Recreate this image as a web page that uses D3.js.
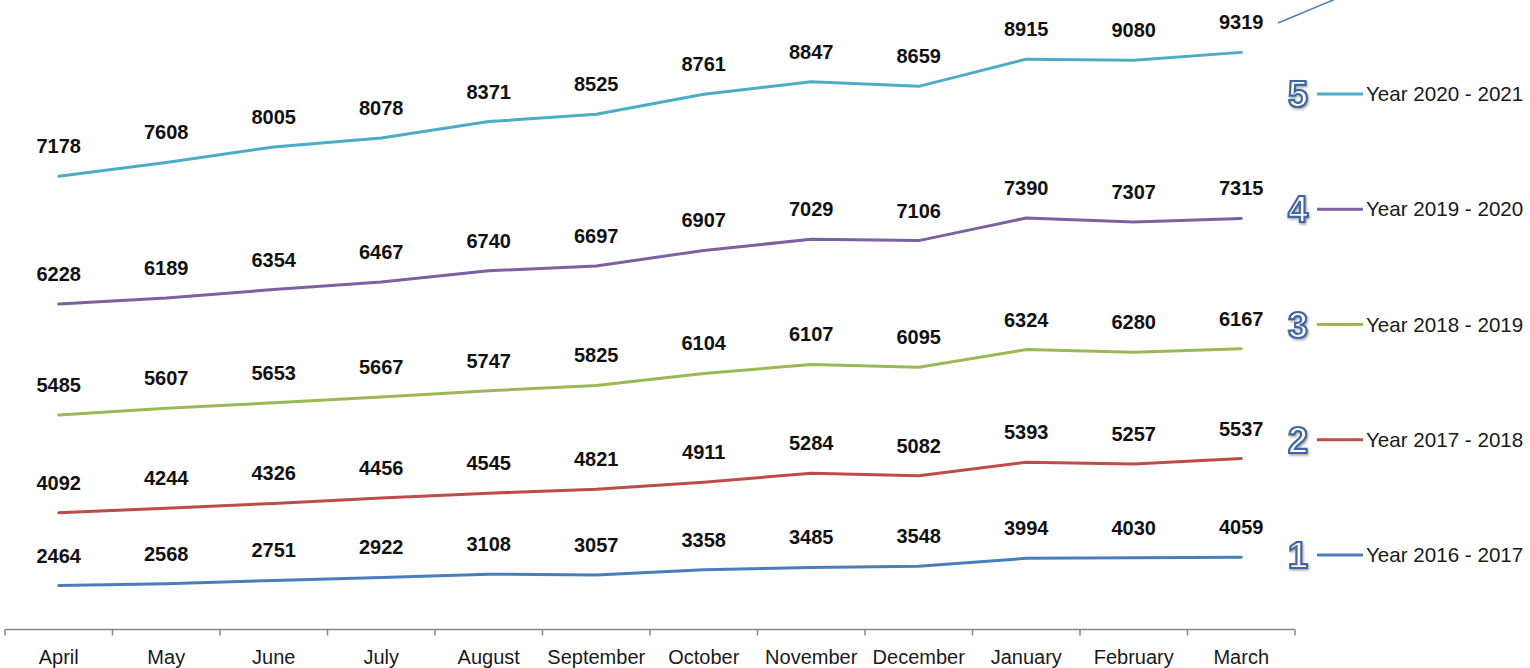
<!DOCTYPE html>
<html>
<head>
<meta charset="utf-8">
<script src="https://cdn.jsdelivr.net/npm/d3@7/dist/d3.min.js"></script>
<style>
  html, body { margin: 0; padding: 0; background: #fff; }
  svg { display: block; }
</style>
</head>
<body>
<svg id="chart" width="1530" height="668"></svg>
<script>
// ---- Data ----
const months = ["April","May","June","July","August","September","October","November","December","January","February","March"];
const seriesNames = ["Year 2016 - 2017","Year 2017 - 2018","Year 2018 - 2019","Year 2019 - 2020","Year 2020 - 2021"];
const legendNumbers = ["1","2","3","4","5"];
const y2016 = [2464,2568,2751,2922,3108,3057,3358,3485,3548,3994,4030,4059];
const y2017 = [4092,4244,4326,4456,4545,4821,4911,5284,5082,5393,5257,5537];
const y2018 = [5485,5607,5653,5667,5747,5825,6104,6107,6095,6324,6280,6167];
const y2019 = [6228,6189,6354,6467,6740,6697,6907,7029,7106,7390,7307,7315];
const y2020 = [7178,7608,8005,8078,8371,8525,8761,8847,8659,8915,9080,9319];
const seriesValues = [y2016, y2017, y2018, y2019, y2020];
const colors = ["#4a7ebb","#be4b48","#98b954","#7d60a0","#4bacc6"];

// ---- Build table for stacking ----
const table = months.map((m, i) => {
  const row = { month: m };
  seriesNames.forEach((s, k) => row[s] = seriesValues[k][i]);
  return row;
});
const stacked = d3.stack().keys(seriesNames)(table);

const svg = d3.select("#chart");
const font = "'Liberation Sans', Arial, sans-serif";

const defs = svg.append("defs");
const f = defs.append("filter").attr("id", "shadow").attr("x", "-20%").attr("y", "-20%").attr("width", "150%").attr("height", "150%");
f.append("feDropShadow").attr("dx", 1).attr("dy", 1.5).attr("stdDeviation", 0.8).attr("flood-color", "#000").attr("flood-opacity", 0.35);

const x = d3.scaleBand().domain(months).range([5, 1295]);
const y = d3.scaleLinear().domain([0, 35000]).range([629.5, 6]);
const cx = m => x(m) + x.bandwidth() / 2;

// ---- Axis ----
const axisG = svg.append("g");
axisG.append("line")
  .attr("x1", x.range()[0]).attr("x2", x.range()[1])
  .attr("y1", 629.5).attr("y2", 629.5)
  .attr("stroke", "#878787").attr("stroke-width", 1.5);
const boundaries = months.map(m => x(m)).concat([x.range()[1]]);
axisG.selectAll("line.tick").data(boundaries).enter().append("line")
  .attr("class", "tick")
  .attr("x1", d => d).attr("x2", d => d)
  .attr("y1", 629.5).attr("y2", 635.5)
  .attr("stroke", "#878787").attr("stroke-width", 1.5);
axisG.selectAll("text").data(months).enter().append("text")
  .attr("x", d => cx(d)).attr("y", 664)
  .attr("text-anchor", "middle")
  .attr("font-family", font).attr("font-size", 20)
  .attr("fill", "#1a1a1a")
  .text(d => d);

// ---- Lines ----
const line = d3.line()
  .x(d => cx(d.data.month))
  .y(d => y(d[1]));

svg.selectAll("path.series").data(stacked).enter().append("path")
  .attr("class", "series")
  .attr("d", d => line(d))
  .attr("fill", "none")
  .attr("stroke", (d, i) => colors[i])
  .attr("stroke-width", 3)
  .attr("stroke-linejoin", "round")
  .attr("stroke-linecap", "round");

// ---- Data labels ----
stacked.forEach((layer, k) => {
  svg.append("g").selectAll("text").data(layer).enter().append("text")
    .attr("x", d => cx(d.data.month))
    .attr("y", d => y(d[1]) - 23)
    .attr("text-anchor", "middle")
    .attr("font-family", font).attr("font-size", 20).attr("font-weight", "bold")
    .attr("fill", "#111")
    .text(d => seriesValues[k][months.indexOf(d.data.month)]);
});

// ---- Legend ----
const legendY = d3.scalePoint().domain(seriesNames.slice().reverse()).range([94, 555]);
const lg = svg.append("g");
seriesNames.forEach((s, k) => {
  const yy = legendY(s);
  lg.append("text")
    .attr("x", 1298).attr("y", yy + 13)
    .attr("text-anchor", "middle")
    .attr("font-family", font).attr("font-size", 36).attr("font-weight", "bold")
    .attr("fill", "#ffffff").attr("stroke", "#3f65a0").attr("stroke-width", 2.2)
    .attr("filter", "url(#shadow)")
    .text(legendNumbers[k]);
  lg.append("line")
    .attr("x1", 1317).attr("x2", 1363)
    .attr("y1", yy).attr("y2", yy)
    .attr("stroke", colors[k]).attr("stroke-width", 3);
  lg.append("text")
    .attr("x", 1366).attr("y", yy + 7)
    .attr("font-family", font).attr("font-size", 20.6)
    .attr("fill", "#1a1a1a")
    .text(s);
});

// ---- Annotation line at top right ----
svg.append("line")
  .attr("x1", 1278).attr("y1", 23).attr("x2", 1350).attr("y2", -7)
  .attr("stroke", "#4a7ebb").attr("stroke-width", 1.5);
</script>
</body>
</html>
